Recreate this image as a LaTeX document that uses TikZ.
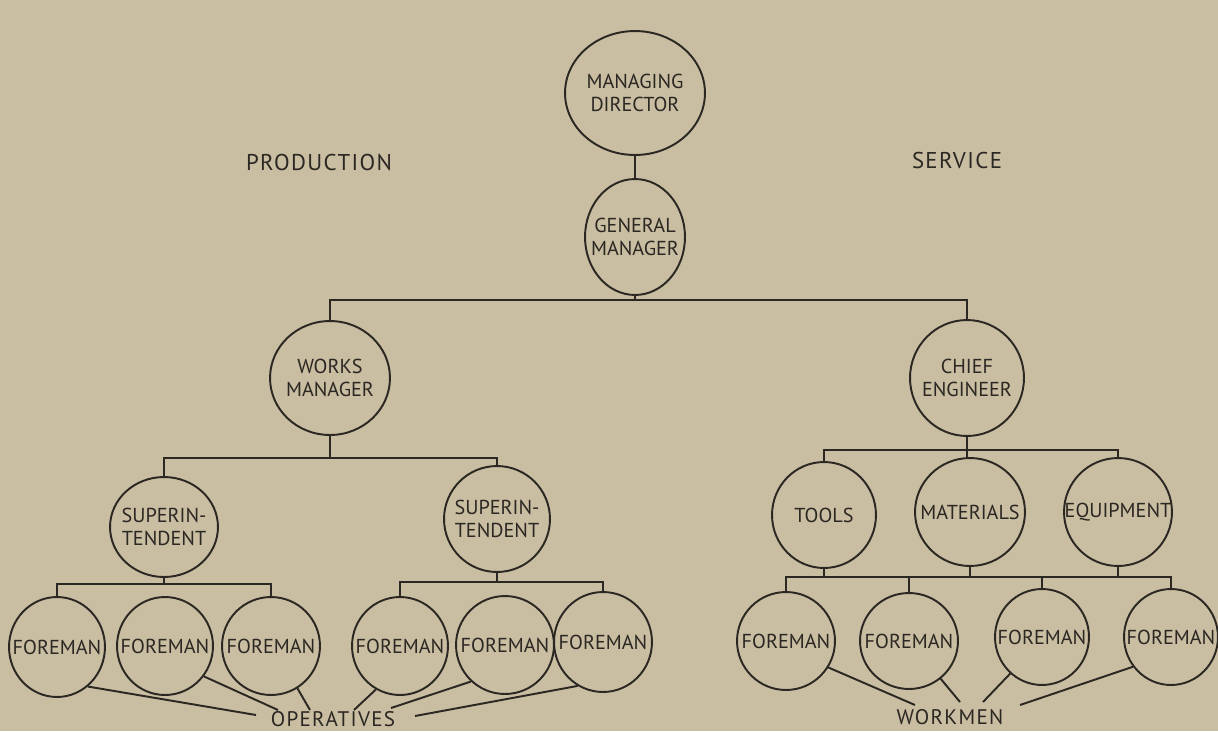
\documentclass[tikz,border=0pt]{standalone}
\usepackage{fontspec}
\setmainfont{PT Sans}
\usetikzlibrary{shapes.geometric}
\definecolor{paper}{HTML}{C9BDA2}
\definecolor{ink}{HTML}{2B2722}
\tikzset{
  unit/.style={ellipse, draw=ink, line width=1.1pt, inner sep=0pt},
  utext/.style={align=center, font=\fontsize{11.5}{13}\selectfont, text=ink, inner sep=0pt},
  link/.style={draw=ink, line width=1.1pt},
  heading/.style={font=\fontsize{13}{15}\selectfont\addfontfeatures{LetterSpace=6}, text=ink},
  foot/.style={font=\fontsize{12}{14}\selectfont\addfontfeatures{LetterSpace=6}, text=ink, inner sep=1pt}
}
\newcommand{\el}[6]{\node[unit, minimum width=#4*0.04cm, minimum height=#5*0.04cm,
   label={[utext]center:{#6}}] (#1) at (#2,#3) {};}
\begin{document}
\begin{tikzpicture}[x=0.02cm,y=-0.02cm]
\fill[paper] (0,0) rectangle (1218,731);
\useasboundingbox (0,0) rectangle (1218,731);

\node[heading] (prod) at (319,162) {PRODUCTION};
\node[heading] (serv) at (957,160) {SERVICE};

\el{md}{635}{93}{70}{62}{MANAGING\\DIRECTOR}
\el{gm}{635}{237}{50}{58}{GENERAL\\MANAGER}
\el{wm}{330}{378}{60}{57}{WORKS\\MANAGER}
\el{ce}{967}{378}{57}{58}{CHIEF\\ENGINEER}
\el{sa}{164}{527}{54}{50}{SUPERIN-\\TENDENT}
\el{sb}{497}{519}{53}{53}{SUPERIN-\\TENDENT}
\el{to}{824}{515}{52}{53}{TOOLS}
\el{ma}{970}{512}{55}{54}{MATERIALS}
\el{eq}{1118}{512}{54}{54}{EQUIPMENT}

\el{fa}{57}{647}{48}{50}{FOREMAN}
\el{fb}{165}{646}{48}{49}{FOREMAN}
\el{fc}{271}{646}{49}{49}{FOREMAN}
\el{fd}{400}{646}{48}{49}{FOREMAN}
\el{fe}{505}{645}{49}{49}{FOREMAN}
\el{ff}{603}{642}{49}{50}{FOREMAN}
\el{fg}{786}{641}{49}{49}{FOREMAN}
\el{fh}{909}{641}{49}{48}{FOREMAN}
\el{fi}{1042}{637}{47}{48}{FOREMAN}
\el{fj}{1171}{637}{47}{48}{FOREMAN}

\node[foot] (ops) at (333,719) {OPERATIVES};
\node[foot] (wkm) at (950,717) {WORKMEN};

% bars
\coordinate (b1) at (0,300);
\coordinate (b2) at (0,458);
\coordinate (b3) at (0,450);
\coordinate (b4) at (0,584);
\coordinate (b5) at (0,582);
\coordinate (b6) at (0,577);

\draw[link] (md) -- (gm);
\draw[link] (gm.south) -- (gm.south |- b1);
\draw[link] (wm.north) -- (wm.north |- b1) -- (ce.north |- b1) -- (ce.north);

\draw[link] (wm.south) -- (wm.south |- b2);
\draw[link] (sa.north) -- (sa.north |- b2) -- (sb.north |- b2) -- (sb.north);

\draw[link] (ce.south) -- (ce.south |- ma.north);
\draw[link] (to.north) -- (to.north |- b3) -- (eq.north |- b3) -- (eq.north);

\draw[link] (sa.south) -- (sa.south |- b4);
\draw[link] (fa.north) -- (fa.north |- b4) -- (fc.north |- b4) -- (fc.north);

\draw[link] (sb.south) -- (sb.south |- b5);
\draw[link] (fd.north) -- (fd.north |- b5) -- (ff.north |- b5) -- (ff.north);

\draw[link] (to.south) -- (to.south |- b6);
\draw[link] (ma.south) -- (ma.south |- b6);
\draw[link] (eq.south) -- (eq.south |- b6);
\draw[link] (fg.north) -- (fg.north |- b6) -- (fj.north |- b6) -- (fj.north);
\draw[link] (fh.north) -- (fh.north |- b6);
\draw[link] (fi.north) -- (fi.north |- b6);

% to operatives
\coordinate (o1) at (256,715);
\coordinate (o2) at (278,710);
\coordinate (o3) at (310,710);
\coordinate (o4) at (354,710);
\coordinate (o5) at (391,708);
\coordinate (o6) at (415,716);
\draw[link] (fa.-52) -- (o1);
\draw[link] (fb.-38) -- (o2);
\draw[link] (fc.-58) -- (o3);
\draw[link] (fd.-119) -- (o4);
\draw[link] (fe.-133) -- (o5);
\draw[link] (ff.-120) -- (o6);

% to workmen
\coordinate (w1) at (915,705);
\coordinate (w2) at (960,702);
\coordinate (w3) at (983,702);
\coordinate (w4) at (1020,705);
\draw[link] (fg.-32) -- (w1);
\draw[link] (fh.-50) -- (w2);
\draw[link] (fi.-131) -- (w3);
\draw[link] (fj.-142) -- (w4);
\end{tikzpicture}
\end{document}
